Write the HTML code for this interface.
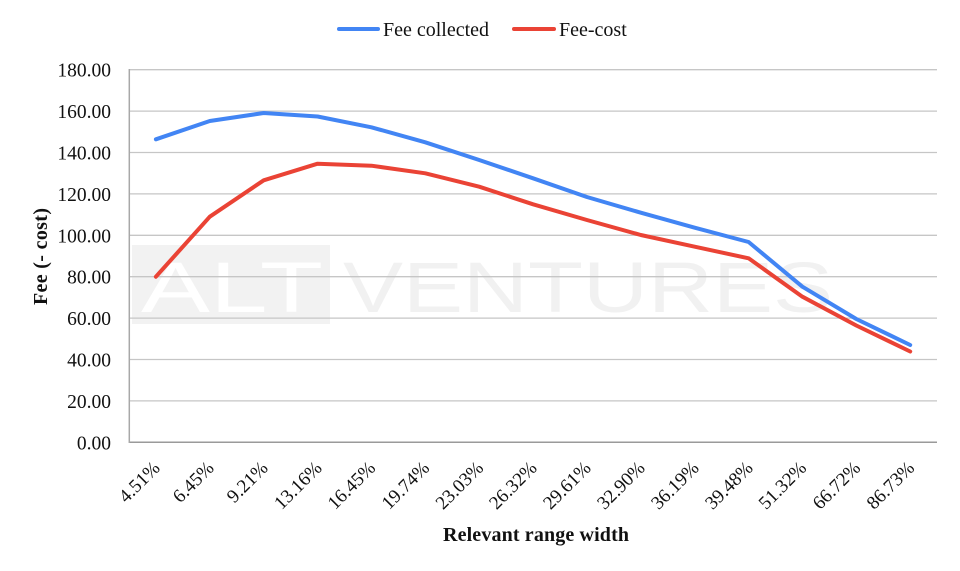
<!DOCTYPE html>
<html>
<head>
<meta charset="utf-8">
<style>
  html, body { margin: 0; padding: 0; background: #ffffff; }
  svg { display: block; }
  text { font-family: "Liberation Serif", "Times New Roman", serif; fill: #111; }
</style>
</head>
<body>
<svg width="960" height="571" viewBox="0 0 960 571" xmlns="http://www.w3.org/2000/svg">
  <rect x="0" y="0" width="960" height="571" fill="#ffffff"/>

  <!-- Watermark -->
  <rect x="132" y="245" width="198" height="79" fill="#f2f2f2"/>
  <text x="141" y="312" textLength="182" lengthAdjust="spacingAndGlyphs" style="font-family:'Liberation Sans',sans-serif;font-size:71px;fill:#ffffff;">ALT</text>
  <text x="343" y="312" textLength="490" lengthAdjust="spacingAndGlyphs" style="font-family:'Liberation Sans',sans-serif;font-size:71px;fill:#f1f1f1;">VENTURES</text>

  <!-- Gridlines -->
  <g stroke="#c6c6c6" stroke-width="1.3">
    <line x1="129" y1="69.7" x2="937" y2="69.7"/>
    <line x1="129" y1="111.1" x2="937" y2="111.1"/>
    <line x1="129" y1="152.5" x2="937" y2="152.5"/>
    <line x1="129" y1="193.9" x2="937" y2="193.9"/>
    <line x1="129" y1="235.3" x2="937" y2="235.3"/>
    <line x1="129" y1="276.7" x2="937" y2="276.7"/>
    <line x1="129" y1="318.1" x2="937" y2="318.1"/>
    <line x1="129" y1="359.5" x2="937" y2="359.5"/>
    <line x1="129" y1="400.9" x2="937" y2="400.9"/>
  </g>
  <line x1="129" y1="442.3" x2="937" y2="442.3" stroke="#9a9a9a" stroke-width="1.5"/>
  <line x1="129.3" y1="69" x2="129.3" y2="443" stroke="#a8a8a8" stroke-width="1.5"/>

  <!-- Y tick labels -->
  <g style="font-size:19.5px;" text-anchor="end">
    <text x="111" y="76.7">180.00</text>
    <text x="111" y="118.1">160.00</text>
    <text x="111" y="159.5">140.00</text>
    <text x="111" y="200.9">120.00</text>
    <text x="111" y="242.3">100.00</text>
    <text x="111" y="283.7">80.00</text>
    <text x="111" y="325.1">60.00</text>
    <text x="111" y="366.5">40.00</text>
    <text x="111" y="407.9">20.00</text>
    <text x="111" y="449.3">0.00</text>
  </g>

  <!-- X tick labels -->
  <g style="font-size:19px;" text-anchor="end">
    <text transform="translate(161,469) rotate(-45)">4.51%</text>
    <text transform="translate(215,469) rotate(-45)">6.45%</text>
    <text transform="translate(269,469) rotate(-45)">9.21%</text>
    <text transform="translate(323,469) rotate(-45)">13.16%</text>
    <text transform="translate(376.5,469) rotate(-45)">16.45%</text>
    <text transform="translate(430.5,469) rotate(-45)">19.74%</text>
    <text transform="translate(484.5,469) rotate(-45)">23.03%</text>
    <text transform="translate(538,469) rotate(-45)">26.32%</text>
    <text transform="translate(592,469) rotate(-45)">29.61%</text>
    <text transform="translate(646,469) rotate(-45)">32.90%</text>
    <text transform="translate(700,469) rotate(-45)">36.19%</text>
    <text transform="translate(754,469) rotate(-45)">39.48%</text>
    <text transform="translate(807.5,469) rotate(-45)">51.32%</text>
    <text transform="translate(861.5,469) rotate(-45)">66.72%</text>
    <text transform="translate(915.5,469) rotate(-45)">86.73%</text>
  </g>

  <!-- Axis titles -->
  <text x="443" y="541" textLength="186" lengthAdjust="spacing" style="font-size:20px;font-weight:bold;">Relevant range width</text>
  <text transform="translate(47,305) rotate(-90)" textLength="97" lengthAdjust="spacing" style="font-size:20px;font-weight:bold;">Fee (- cost)</text>

  <!-- Series -->
  <polyline fill="none" stroke="#4285f4" stroke-width="4" stroke-linejoin="round" stroke-linecap="round"
    points="155.9,139.3 209.8,121 263.7,113 317.6,116.5 371.4,127.3 425.3,142.3 479.2,160 533.1,178.3 586.9,197 640.8,212.7 694.7,227.7 748.6,242 802.4,286.7 856.3,319 910.2,345"/>
  <polyline fill="none" stroke="#ea4335" stroke-width="4" stroke-linejoin="round" stroke-linecap="round"
    points="155.9,276.7 209.8,216.7 263.7,180.3 317.6,163.7 371.4,165.7 425.3,173.3 479.2,186.7 533.1,204.3 586.9,220 640.8,235 694.7,246.7 748.6,258.3 802.4,296.7 856.3,325.5 910.2,351.5"/>

  <!-- Legend -->
  <line x1="339" y1="29" x2="378" y2="29" stroke="#4285f4" stroke-width="4" stroke-linecap="round"/>
  <text x="383" y="36" style="font-size:20px;">Fee collected</text>
  <line x1="514" y1="29" x2="554" y2="29" stroke="#ea4335" stroke-width="4" stroke-linecap="round"/>
  <text x="559" y="36" style="font-size:20px;">Fee-cost</text>
</svg>
</body>
</html>
